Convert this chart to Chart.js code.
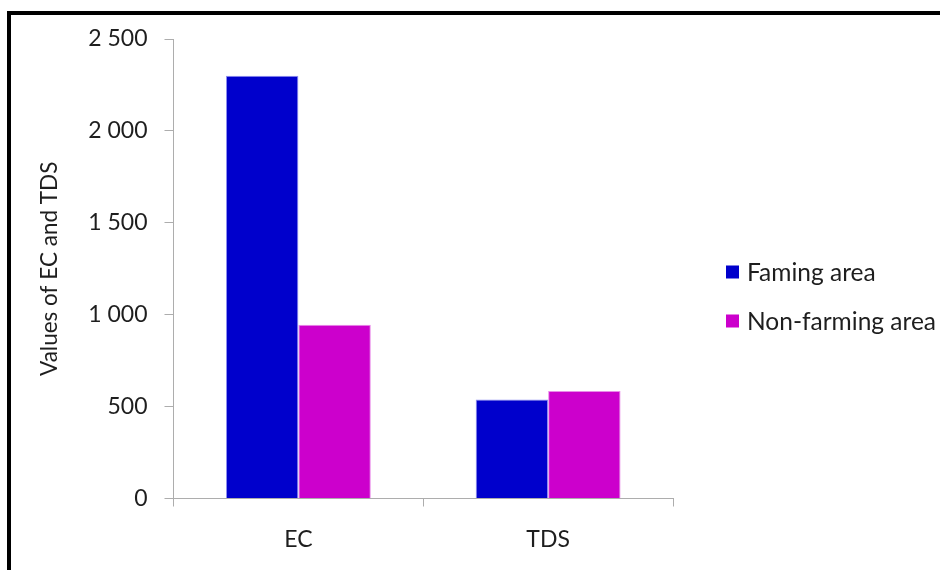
<!DOCTYPE html>
<html>
<head>
<meta charset="utf-8">
<script src="https://cdn.jsdelivr.net/npm/chart.js@4/dist/chart.umd.min.js"></script>
<style>
  html, body { margin: 0; padding: 0; background: #fff; overflow: hidden; }
  #wrap { position: relative; width: 940px; height: 570px; }
  #frame {
    position: absolute; left: 7px; top: 11px; width: 2000px; height: 2000px;
    border-top: 4px solid #000; border-left: 4px solid #000; pointer-events: none;
  }
  canvas { position: absolute; left: 0; top: 0; }
</style>
</head>
<body>
<div id="wrap">
  <div id="frame"></div>
  <canvas id="chart" width="940" height="570"></canvas>
</div>
<script>
// EC and TDS measured in each area type
const categories = ['EC', 'TDS'];
const seriesNames = ['Faming area', 'Non-farming area'];
const farming = [2300, 538];
const nonFarming = [945, 585];
const yTicks = [0, 500, 1000, 1500, 2000, 2500];
const yTitle = 'Values of EC and TDS';

const FONT = 'Lato';
const TEXT = '#1e1e1e';
const AXIS = '#adadad';

function spaced(v) {
  return String(v).replace(/\B(?=(\d{3})+(?!\d))/g, ' ');
}

// Legend drawn to the right of the plot, one row per dataset
const sideLegend = {
  id: 'sideLegend',
  afterDraw(chart, args, opts) {
    const ctx = chart.ctx;
    const area = chart.chartArea;
    ctx.save();
    ctx.font = opts.fontSize + 'px ' + FONT;
    ctx.textBaseline = 'middle';
    ctx.textAlign = 'left';
    chart.data.datasets.forEach((ds, i) => {
      const x = area.right + opts.offsetX;
      const y = opts.top + i * opts.rowGap;
      ctx.fillStyle = ds.backgroundColor;
      ctx.fillRect(x, y - 6.5, 13, 13);
      ctx.fillStyle = TEXT;
      ctx.fillText(ds.label, x + 21, y + 1);
    });
    ctx.restore();
  }
};

new Chart(document.getElementById('chart'), {
  type: 'bar',
  data: {
    labels: categories,
    datasets: [
      {
        label: seriesNames[0],
        data: farming,
        backgroundColor: '#0000cc',
        borderColor: '#8f8ff2',
        borderWidth: 1,
        barPercentage: 1,
        categoryPercentage: 0.58
      },
      {
        label: seriesNames[1],
        data: nonFarming,
        backgroundColor: '#cc00cc',
        borderColor: '#e98be9',
        borderWidth: 1,
        barPercentage: 1,
        categoryPercentage: 0.58
      }
    ]
  },
  options: {
    responsive: false,
    animation: false,
    devicePixelRatio: 1,
    layout: { padding: { left: 0, top: 39, right: 267, bottom: 0 } },
    plugins: {
      legend: { display: false },
      tooltip: { enabled: false },
      sideLegend: { offsetX: 53, top: 272, rowGap: 49, fontSize: 24.5 }
    },
    scales: {
      x: {
        grid: {
          display: true, drawOnChartArea: false, drawTicks: true,
          tickLength: 8, color: AXIS, offset: true
        },
        border: { display: true, color: AXIS, width: 1 },
        ticks: { color: TEXT, font: { family: FONT, size: 23 }, padding: 19 },
        afterFit(scale) { scale.height = 71.5; }
      },
      y: {
        min: 0,
        max: 2500,
        afterBuildTicks(scale) { scale.ticks = yTicks.map(v => ({ value: v })); },
        grid: {
          display: true, drawOnChartArea: false, drawTicks: true,
          tickLength: 9, color: AXIS
        },
        border: { display: true, color: AXIS, width: 1 },
        ticks: {
          color: TEXT, font: { family: FONT, size: 23 }, padding: 17,
          callback: v => spaced(v)
        },
        title: {
          display: true, text: yTitle, color: TEXT,
          font: { family: FONT, size: 22.5 }, padding: { top: 36, bottom: 0 }
        },
        afterFit(scale) { scale.width = 173.5; }
      }
    }
  },
  plugins: [sideLegend]
});
</script>
</body>
</html>
